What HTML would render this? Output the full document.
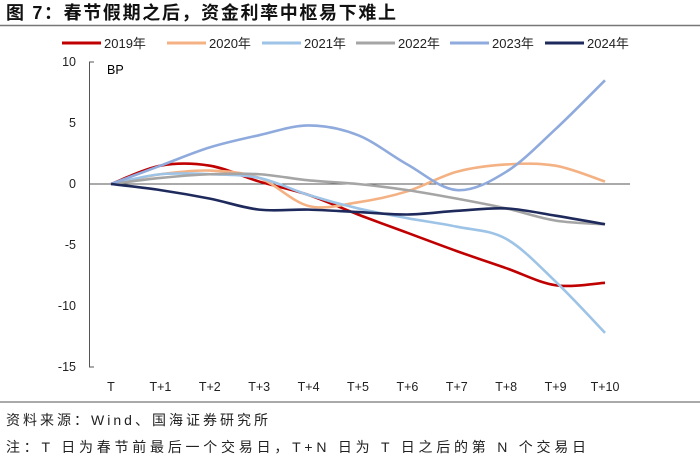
<!DOCTYPE html><html><head><meta charset="utf-8"><style>
body{margin:0;width:700px;height:460px;background:#fff;font-family:"Liberation Sans","Noto Sans CJK SC",sans-serif;overflow:hidden}
svg text{font-family:"Liberation Sans","Noto Sans CJK SC",sans-serif}
</style></head><body>
<svg id="s" width="700" height="460" xmlns="http://www.w3.org/2000/svg">
<text x="6" y="19" font-size="18" font-weight="bold" fill="#111" textLength="390" lengthAdjust="spacing">图 7：春节假期之后，资金利率中枢易下难上</text>
<line x1="0" y1="25.5" x2="700" y2="25.5" stroke="#777" stroke-width="1.5"/>
<line x1="0" y1="402" x2="700" y2="402" stroke="#777" stroke-width="1.2"/>
<text x="6" y="425" font-size="14" fill="#222" textLength="262" lengthAdjust="spacing">资料来源：Wind、国海证券研究所</text>
<text x="6" y="452" font-size="14" fill="#222" textLength="580" lengthAdjust="spacing">注：T 日为春节前最后一个交易日，T+N 日为 T 日之后的第 N 个交易日</text>
<g id="leg" font-size="13" fill="#222"></g>
<line x1="89.5" y1="62" x2="89.5" y2="367" stroke="#555"/>
<line x1="89" y1="62" x2="94" y2="62" stroke="#555"/>
<line x1="89" y1="367" x2="94" y2="367" stroke="#555"/>
<line x1="89" y1="184" x2="630" y2="184" stroke="#555"/>
<text x="107" y="74" font-size="12.5">BP</text>
<g id="ax" font-size="12.5" fill="#222"></g>
<g id="ser" fill="none" stroke-width="2.6"></g>
</svg>
<script>
var X=i=>111+i*49.4,Y=v=>184-v*12.2;
var ax=document.getElementById('ax'),h='';
[10,5,0,-5,-10,-15].forEach(v=>{h+='<text x="76" y="'+(Y(v)+4)+'" text-anchor="end">'+v+'</text>';});
for(var i=0;i<=10;i++)h+='<text x="'+X(i)+'" y="391" text-anchor="middle">'+(i?'T+'+i:'T')+'</text>';
ax.innerHTML=h;
var S=[["2019年","#c00000",[0,1.5,1.5,0.2,-0.9,-2.5,-4,-5.5,-6.9,-8.3,-8.1]],
["2020年","#f4b183",[0,0.8,1.1,0.5,-1.8,-1.5,-0.6,1,1.6,1.5,0.2]],
["2021年","#9dc3e6",[0,0.8,0.8,0.5,-0.9,-2,-2.8,-3.5,-4.5,-8,-12.2]],
["2022年","#a5a5a5",[0,0.5,0.8,0.8,0.3,0,-0.5,-1.2,-2,-3,-3.3]],
["2023年","#8faadc",[0,1.5,3,4,4.8,4,1.6,-0.5,1,4.5,8.5]],
["2024年","#1f2a5c",[0,-0.5,-1.2,-2.1,-2.1,-2.3,-2.5,-2.2,-2,-2.6,-3.3]]];
var g=document.getElementById('ser'),lg=document.getElementById('leg'),gh='',lh='';
var lx=[62,167,262,356,450,545];
S.forEach((s,k)=>{var p=s[2].map((v,i)=>[X(i),Y(v)]);var d='M'+p[0];
for(var i=0;i<p.length-1;i++){var a=p[Math.max(i-1,0)],b=p[i],c=p[i+1],e=p[Math.min(i+2,p.length-1)];
d+=' C'+(b[0]+(c[0]-a[0])/6)+','+(b[1]+(c[1]-a[1])/6)+' '+(c[0]-(e[0]-b[0])/6)+','+(c[1]-(e[1]-b[1])/6)+' '+c;}
gh+='<path d="'+d+'" stroke="'+s[1]+'"/>';
lh+='<line x1="'+lx[k]+'" y1="43" x2="'+(lx[k]+39)+'" y2="43" stroke="'+s[1]+'" stroke-width="3"/><text x="'+(lx[k]+42)+'" y="48">'+s[0]+'</text>';});
g.innerHTML=gh;lg.innerHTML=lh;
</script>
</body></html>
